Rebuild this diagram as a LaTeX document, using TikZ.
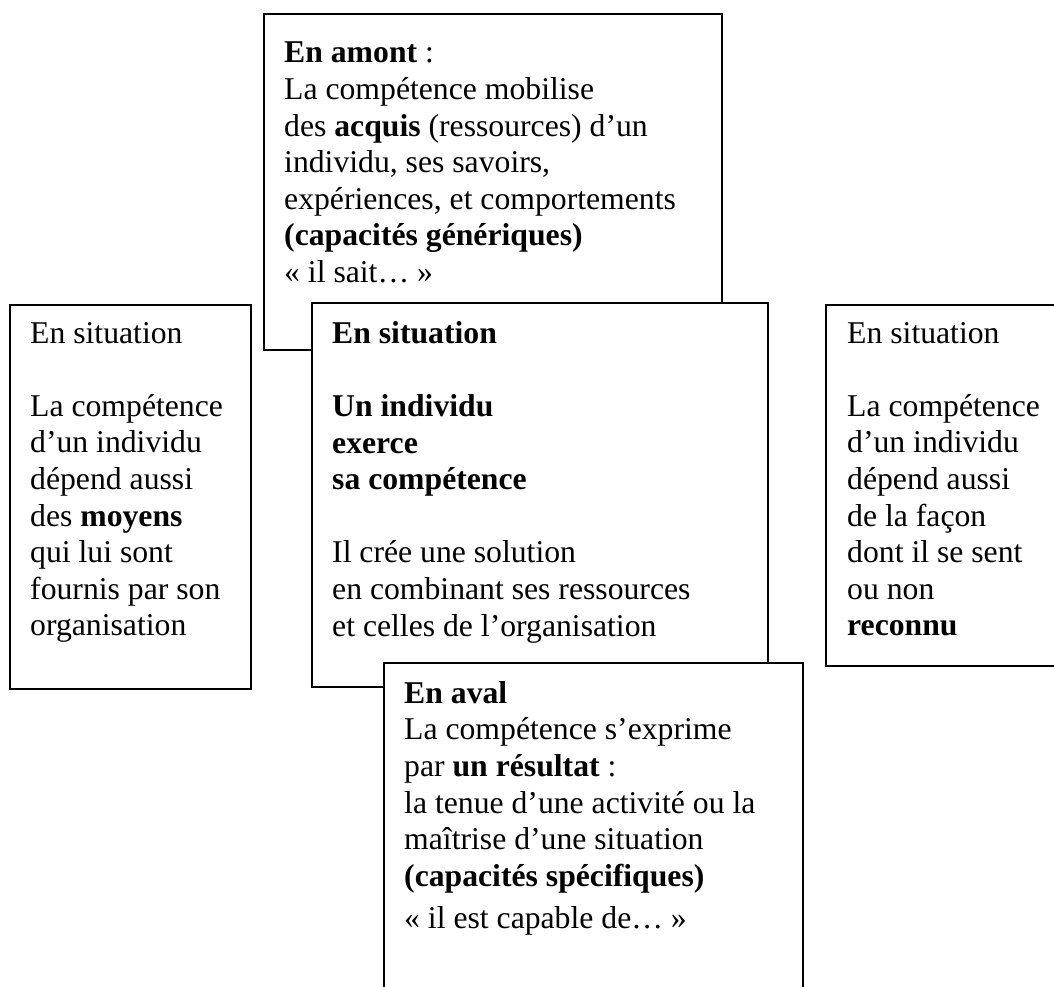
\documentclass[tikz,border=0pt]{standalone}
\usepackage{fontspec}
\setmainfont{Liberation Serif}
\begin{document}
\begin{tikzpicture}[x=1pt,y=-1pt,
  cadre/.style={draw=black,fill=white,line width=2pt,anchor=north west,inner sep=0pt},
  texte/.style={anchor=north west,align=left,inner sep=0pt,font=\fontsize{31.7}{36.6}\selectfont}]
\def\dx{21pt}
\def\dy{-19pt}
\useasboundingbox (0,0) rectangle (1054,987);
\clip (0,0) rectangle (1054,987);

% en amont
\node[cadre,minimum width=458pt,minimum height=336pt] (amont) at (263,13) {};
\node[texte] (tamont) at ([xshift=\dx,yshift=-29pt]amont.north west) {\textbf{En amont} :\\
La compétence mobilise\\
des \textbf{acquis} (ressources) d’un\\
individu, ses savoirs,\\
expériences, et comportements\\
\textbf{(capacités génériques)}\\
«~il sait…~»};

% en situation (centre)
\node[cadre,minimum width=456pt,minimum height=384pt] (centre) at (311,302) {};
\node[texte] (tcentre) at ([xshift=\dx,yshift=\dy]centre.north west) {\textbf{En situation}\\
\\
\textbf{Un individu}\\
\textbf{exerce}\\
\textbf{sa compétence}\\
\\
Il crée une solution\\
en combinant ses ressources\\
et celles de l’organisation};

% en situation (gauche)
\node[cadre,minimum width=241pt,minimum height=384pt] (gauche) at (9,304) {};
\node[texte] (tgauche) at ([xshift=\dx,yshift=-18pt]gauche.north west) {En situation\\
\\
La compétence\\
d’un individu\\
dépend aussi\\
des \textbf{moyens}\\
qui lui sont\\
fournis par son\\
organisation};

% en situation (droite)
\node[cadre,minimum width=250pt,minimum height=361pt] (droite) at (825,304) {};
\node[texte] (tdroite) at ([xshift=22pt,yshift=-18pt]droite.north west) {En situation\\
\\
La compétence\\
d’un individu\\
dépend aussi\\
de la façon\\
dont il se sent\\
ou non\\
\textbf{reconnu}};

% en aval
\node[cadre,minimum width=419pt,minimum height=345pt] (aval) at (383,662) {};
\node[texte] (taval) at ([xshift=\dx,yshift=\dy]aval.north west) {\textbf{En aval}\\
La compétence s’exprime\\
par \textbf{un résultat} :\\
la tenue d’une activité ou la\\
maîtrise d’une situation\\
\textbf{(capacités spécifiques)}\\[6pt]
«~il est capable de…~»};
\end{tikzpicture}
\end{document}
